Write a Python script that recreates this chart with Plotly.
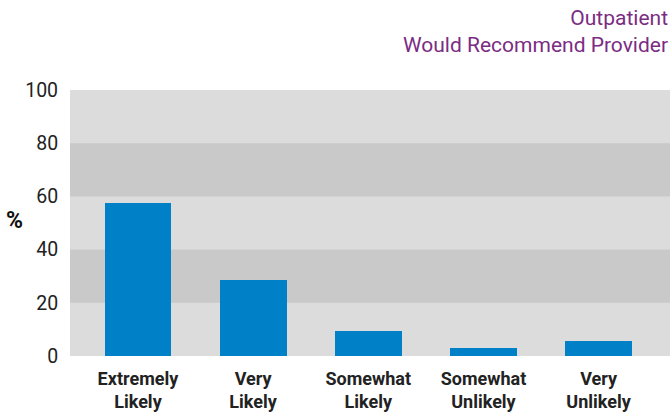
import plotly.graph_objects as go

categories = ["Extremely<br>Likely", "Very<br>Likely", "Somewhat<br>Likely", "Somewhat<br>Unlikely", "Very<br>Unlikely"]
values = [57.6, 28.6, 9.3, 2.9, 5.5]
y_ticks = [0, 20, 40, 60, 80, 100]
bands = [(20, 40), (60, 80)]

FONT = "Roboto, Liberation Sans Narrow, sans-serif"

fig = go.Figure()
fig.add_trace(go.Bar(x=list(range(len(categories))), y=values, marker_color="#0080C6",
                     marker_line_width=0, width=0.58))

for lo, hi in bands:
    fig.add_shape(type="rect", xref="paper", yref="y", x0=0, x1=1, y0=lo, y1=hi,
                  fillcolor="#C9C9C9", line_width=0, layer="below")

fig.update_layout(
    width=672, height=412,
    margin=dict(l=70, r=2, t=90, b=56),
    paper_bgcolor="white", plot_bgcolor="#DCDCDC",
    showlegend=False,
    font=dict(family=FONT, color="#222222"),
    bargap=0,
)
fig.update_xaxes(range=[-0.59, 4.62], tickvals=list(range(len(categories))), ticktext=categories,
                 showgrid=False, zeroline=False, showline=False, automargin=False,
                 tickfont=dict(family=FONT, size=18, color="#222222", weight="bold"),
                 ticks="outside", ticklen=6, tickcolor="rgba(0,0,0,0)")
fig.update_yaxes(range=[0, 100], tickvals=y_ticks, showgrid=False, zeroline=False, showline=False,
                 automargin=False,
                 tickfont=dict(family=FONT, size=19.5, color="#222222"),
                 ticks="outside", ticklen=7, tickcolor="rgba(0,0,0,0)")

fig.add_annotation(text="Outpatient<br>Would Recommend Provider", xref="paper", yref="paper",
                   x=1, y=1, xanchor="right", yanchor="bottom", yshift=31, align="right",
                   showarrow=False, font=dict(family=FONT, size=21, color="#7B2C83"))
fig.add_annotation(text="<b>%</b>", xref="paper", yref="y", x=-0.092, y=51, xanchor="center",
                   yanchor="middle", showarrow=False, font=dict(family=FONT, size=23, color="#111111"))

fig.write_html("out.html", config={"displayModeBar": False},
               post_script="document.body.style.margin='0';document.body.style.overflow='hidden';")
